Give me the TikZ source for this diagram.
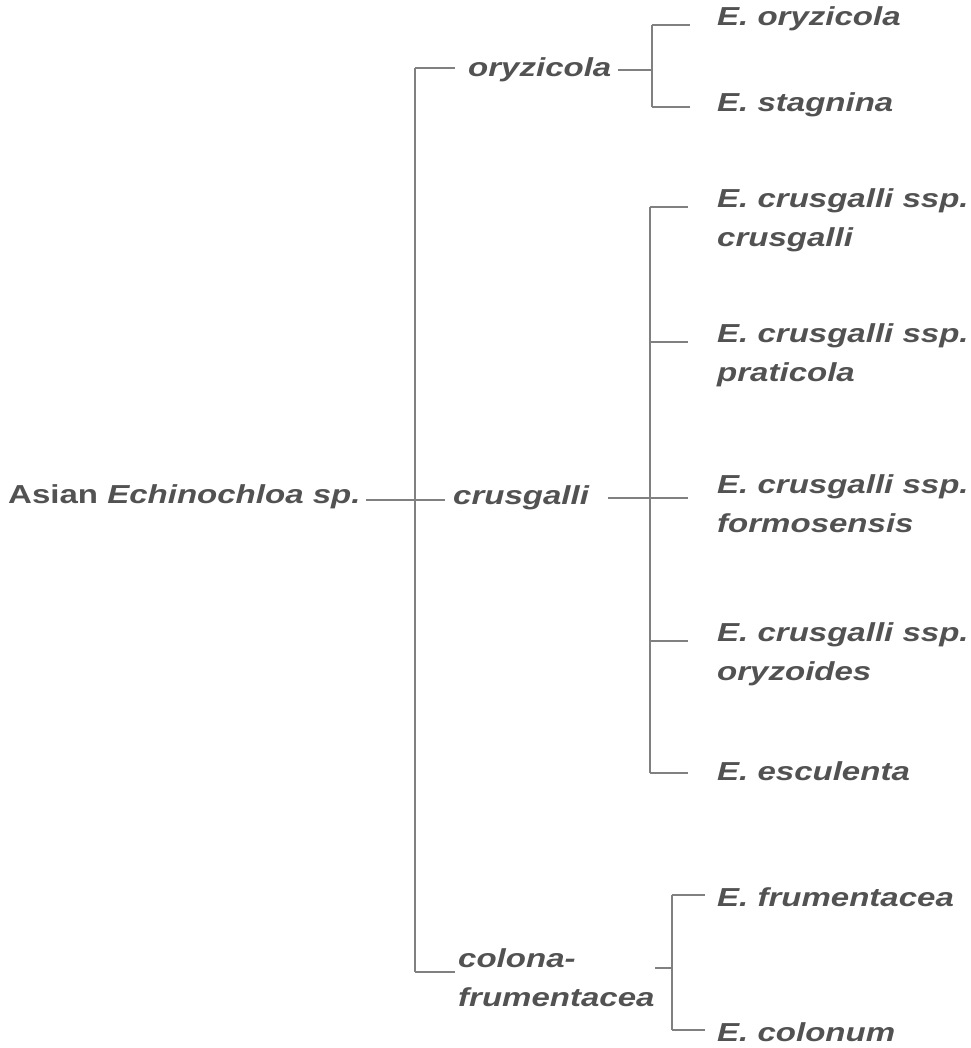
\documentclass[tikz,border=0pt]{standalone}
\usepackage{fontspec}
\setmainfont{Liberation Sans}[FakeStretch=1.27]
\begin{document}
\begin{tikzpicture}[x=1pt,y=-1pt,
  lab/.style={anchor=west,inner sep=0pt,text=black!68,font=\fontsize{26}{39}\selectfont\bfseries\itshape,align=left},
  ln/.style={draw=black!50,line width=1.2pt}]
\useasboundingbox (0,0) rectangle (970,1048);
\node[lab,font=\fontsize{26}{39}\selectfont\bfseries] (root) at (8,497) {Asian \textit{Echinochloa sp.}};
\node[lab] (ory) at (468,70) {oryzicola};
\node[lab] (cru) at (453,498) {crusgalli};
\node[lab] (col) at (458,978) {colona-\\frumentacea};
\node[lab] (a1) at (717,19) {E. oryzicola};
\node[lab] (a2) at (717,105) {E. stagnina};
\node[lab] (b1) at (717,220) {E. crusgalli ssp.\\crusgalli};
\node[lab] (b2) at (717,355) {E. crusgalli ssp.\\praticola};
\node[lab] (b3) at (717,504) {E. crusgalli ssp.\\formosensis};
\node[lab] (b4) at (717,654) {E. crusgalli ssp.\\oryzoides};
\node[lab] (b5) at (717,771) {E. esculenta};
\node[lab] (c1) at (717,897) {E. frumentacea};
\node[lab] (c2) at (717,1032) {E. colonum};
\coordinate (j0) at (415,500);
\draw[ln] (366,500) -- (j0);
\draw[ln] (415,68) -- (415,972);
\draw[ln] (415,68) -- (455,68);
\draw[ln] (j0) -- (445,500);
\draw[ln] (415,972) -- (455,972);
\draw[ln] (618,70) -- (652,70);
\draw[ln] (652,25) -- (652,107);
\draw[ln] (652,25) -- (690,25);
\draw[ln] (652,107) -- (690,107);
\draw[ln] (608,498) -- (650,498);
\draw[ln] (650,207) -- (650,773);
\foreach \y in {207,342,498,641,773} \draw[ln] (650,\y) -- (688,\y);
\draw[ln] (655,968) -- (672,968);
\draw[ln] (672,895) -- (672,1030);
\draw[ln] (672,895) -- (705,895);
\draw[ln] (672,1030) -- (705,1030);
\end{tikzpicture}
\end{document}
